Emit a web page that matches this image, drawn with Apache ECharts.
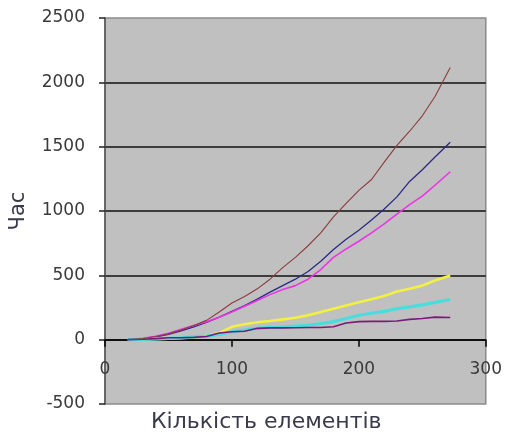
<!DOCTYPE html>
<html>
<head>
<meta charset="utf-8">
<script src="https://cdn.jsdelivr.net/npm/echarts@6/dist/echarts.min.js"></script>
<style>
  html, body { margin: 0; padding: 0; background: #ffffff; }
  #chart { width: 505px; height: 448px; }
</style>
</head>
<body>
<div id="chart"></div>
<script>
// Number of elements (x values shared by all series)
const sizes = [18, 30, 40, 50, 60, 70, 80, 90, 100, 110, 120, 130, 140, 150, 160, 170, 180, 190, 200, 210, 220, 230, 240, 250, 260, 272];

// Time per algorithm
const seriesBrown   = [0, 8, 25, 45, 75, 110, 150, 215, 285, 335, 395, 470, 560, 640, 730, 830, 955, 1060, 1160, 1245, 1380, 1510, 1620, 1740, 1890, 2115];
const seriesNavy    = [0, 8, 22, 42, 68, 100, 135, 175, 220, 265, 315, 370, 420, 470, 530, 610, 700, 780, 850, 930, 1015, 1110, 1230, 1320, 1420, 1535];
const seriesMagenta = [0, 10, 26, 50, 80, 110, 140, 175, 215, 260, 305, 350, 390, 420, 470, 545, 640, 705, 765, 830, 900, 975, 1050, 1115, 1200, 1305];
const seriesYellow  = [0, 2, 5, 8, 12, 18, 30, 52, 100, 120, 135, 145, 158, 170, 190, 215, 240, 265, 290, 315, 340, 375, 395, 420, 460, 498];
const seriesCyan    = [0, 3, 6, 10, 15, 22, 27, 40, 60, 75, 88, 95, 98, 105, 112, 125, 140, 165, 190, 205, 220, 240, 255, 270, 290, 312];
const seriesPurple  = [0, 3, 8, 15, 15, 18, 25, 52, 62, 65, 88, 92, 92, 93, 95, 95, 100, 130, 140, 142, 142, 145, 158, 165, 175, 172];

// Axis ticks
const xTicks = [0, 100, 200, 300];
const yTicks = [-500, 0, 500, 1000, 1500, 2000, 2500];

const xTitle = 'Кількість елементів';
const yTitle = 'Час';

const pair = ys => sizes.map((x, i) => [x, ys[i]]);

const lines = [
  { data: seriesNavy,    color: '#2a2a86', width: 1.3 },
  { data: seriesMagenta, color: '#ee33e6', width: 1.6 },
  { data: seriesYellow,  color: '#f2f040', width: 2.6 },
  { data: seriesCyan,    color: '#48dede', width: 3.2 },
  { data: seriesPurple,  color: '#7a1a7a', width: 1.6 },
  { data: seriesBrown,   color: '#8a3c3c', width: 1.1 }
];

const gridTop = 18, gridBottom = 44, chartHeight = 448;
const yMin = yTicks[0], yMax = yTicks[yTicks.length - 1];
// Shift the horizontal axis up so it sits on the zero line
const plotHeight = chartHeight - gridTop - gridBottom;
const zeroOffset = -plotHeight * (0 - yMin) / (yMax - yMin);

const chart = echarts.init(document.getElementById('chart'), null, { renderer: 'canvas' });

const labelFont = { fontFamily: 'DejaVu Sans', fontSize: 17, color: '#3a3a3a' };
const plain = v => String(v);

chart.setOption({
  animation: false,
  backgroundColor: '#ffffff',
  title: {
    text: xTitle,
    left: 146,
    top: 406,
    textStyle: { fontFamily: 'DejaVu Sans', fontSize: 22, fontWeight: 'normal', color: '#3a3a4a' }
  },
  grid: {
    left: 102, right: 17, top: gridTop, bottom: gridBottom,
    show: true,
    backgroundColor: '#c0c0c0',
    borderColor: '#8a8a8a',
    borderWidth: 1.5
  },
  xAxis: {
    type: 'value',
    min: xTicks[0],
    max: xTicks[xTicks.length - 1],
    interval: 100,
    offset: zeroOffset,
    axisLine: { show: true, onZero: false, lineStyle: { color: '#000000', width: 1.5 } },
    axisTick: { show: true, length: 7, lineStyle: { color: '#000000', width: 1.5 } },
    axisLabel: Object.assign({ margin: 21, formatter: plain }, labelFont),
    splitLine: { show: false }
  },
  yAxis: {
    type: 'value',
    min: yMin,
    max: yMax,
    interval: 500,
    name: yTitle,
    nameLocation: 'middle',
    nameGap: 76,
    nameRotate: 90,
    nameTextStyle: { fontFamily: 'DejaVu Sans', fontSize: 21, color: '#3a3a4a' },
    axisLine: { show: true, lineStyle: { color: '#555555', width: 1.5 } },
    axisTick: { show: true, inside: false, length: 6, lineStyle: { color: '#222222', width: 1.5 } },
    axisLabel: Object.assign({ margin: 20, formatter: plain }, labelFont),
    splitLine: {
      show: true,
      showMinLine: false,
      showMaxLine: false,
      lineStyle: { color: '#111111', width: 1.5 }
    }
  },
  series: lines.map(s => ({
    type: 'line',
    data: pair(s.data),
    showSymbol: false,
    symbol: 'none',
    smooth: false,
    lineStyle: { color: s.color, width: s.width },
    itemStyle: { color: s.color }
  }))
});
</script>
</body>
</html>
